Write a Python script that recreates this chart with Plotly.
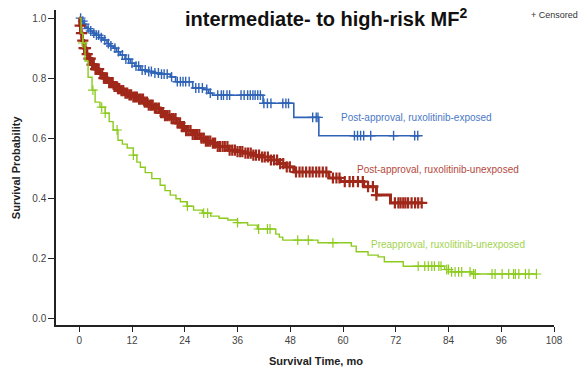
import numpy as np
import plotly.graph_objects as go

# ---- data ----
blue_t = [0, 0.5, 1, 1.5, 2, 2.5, 3, 3.6, 4.5, 5.4, 6.3, 7, 7.7, 8.5, 9.3, 10.4, 11.6, 12.6, 13.9,
          15.3, 16.8, 18.4, 20.7, 21.9, 25.8, 28.3, 29.4, 30.3, 41.8, 48.8, 54.5, 77.4]
blue_s = [1.0, 0.99, 0.98, 0.97, 0.965, 0.957, 0.95, 0.943, 0.935, 0.927, 0.915, 0.907, 0.9, 0.888,
          0.877, 0.863, 0.85, 0.84, 0.827, 0.822, 0.817, 0.813, 0.804, 0.788, 0.767, 0.762, 0.75,
          0.743, 0.716, 0.669, 0.608, 0.608]
blue_cens = [0.3, 0.8, 1.2, 2.0, 2.6, 3.3, 3.9, 4.4, 5.0, 5.8, 6.6, 7.2, 8.1, 8.9, 9.8, 10.6, 11.2,
             12.0, 12.9, 13.5, 14.3, 15.0, 15.8, 16.4, 17.2, 18.0, 18.7, 19.3, 20.0, 21.0, 22.3,
             23.0, 23.6, 24.2, 25.0, 26.5, 27.2, 28.0, 29.0, 29.8, 31.5, 32.3, 32.8, 33.6, 34.2,
             36.8, 37.5, 38.3, 38.9, 39.5, 40.0, 40.6, 41.2, 42.0, 42.8, 43.6, 46.3, 47.0, 47.6,
             53.1, 53.9, 54.3, 62.6, 63.3, 64.0, 64.7, 66.3, 71.5, 76.3, 77.0]

red_t = [0, 0.1, 0.3, 0.6, 1.0, 1.5, 2.0, 2.8, 3.6, 4.5, 5.4, 6.5, 7.7, 8.5, 9.3, 10.2, 11.2, 12.2,
         13.2, 14.6, 15.8, 17.0, 18.4, 19.5, 20.7, 22.0, 23.0, 24.3, 25.8, 27.6, 28.8, 29.9, 31.5,
         33.8, 35.5, 37.4, 39.5, 41.3, 43.6, 45.2, 47.0, 48.8, 56.8, 59.4, 64.7, 67.6, 70.8, 78.0]
red_s = [1.0, 0.975, 0.95, 0.925, 0.9, 0.88, 0.865, 0.845, 0.83, 0.815, 0.8, 0.785, 0.772, 0.765,
         0.758, 0.75, 0.744, 0.737, 0.73, 0.72, 0.71, 0.7, 0.685, 0.675, 0.665, 0.65, 0.638, 0.625,
         0.612, 0.6, 0.59, 0.583, 0.572, 0.56, 0.555, 0.55, 0.543, 0.537, 0.527, 0.515, 0.504,
         0.487, 0.467, 0.455, 0.438, 0.41, 0.384, 0.384]
red_cens = [0.2, 0.5, 0.8, 1.1, 1.4, 1.8, 2.2, 2.5, 2.9, 3.3, 3.7, 4.0, 4.4, 4.8, 5.2, 5.6, 6.0, 6.3,
            6.8, 7.2, 7.6, 8.0, 8.4, 8.8, 9.1, 9.6, 10.0, 10.5, 10.9, 11.4, 11.8, 12.3, 12.7, 13.1,
            13.6, 14.0, 14.5, 14.9, 15.4, 15.8, 16.3, 16.7, 17.2, 17.6, 18.1, 18.6, 19.0, 19.5,
            20.0, 20.5, 21.0, 21.4, 21.9, 22.4, 22.9, 23.4, 23.8, 24.3, 24.8, 25.3, 25.8, 26.3,
            26.8, 27.3, 27.8, 28.3, 28.8, 29.3, 29.8, 30.4, 30.9, 31.5, 32.0, 32.6, 33.1, 33.7,
            34.2, 34.8, 35.4, 36.0, 36.6, 37.1, 37.8, 38.4, 39.0, 39.6, 40.2, 40.9, 41.6, 42.2,
            42.9, 43.6, 44.3, 45.0, 45.7, 46.4, 47.2, 47.9, 49.3, 50.1, 50.8, 51.6, 52.4, 53.1,
            53.9, 54.6, 55.4, 56.2, 57.7, 58.5, 59.2, 60.4, 61.5, 62.3, 63.4, 64.5, 65.7, 66.8,
            67.6, 71.8, 72.6, 73.1, 73.7, 74.2, 74.8, 75.6, 76.4, 77.1, 77.9]

green_t = [0, 0.4, 0.8, 1.3, 2.0, 2.9, 3.6, 4.7, 5.9, 6.8, 7.7, 8.8, 9.8, 10.9, 12.3, 13.1, 13.9,
           15.0, 16.5, 18.4, 19.5, 20.7, 22.0, 23.0, 24.5, 26.0, 28.0, 29.9, 31.8, 33.8, 36.0,
           38.3, 40.5, 44.7, 45.5, 46.3, 54.3, 61.9, 63.0, 65.7, 68.0, 69.4, 73.7, 83.1, 84.7,
           89.3, 104.0]
green_s = [1.0, 0.95, 0.917, 0.857, 0.803, 0.76, 0.72, 0.703, 0.683, 0.655, 0.627, 0.593, 0.58,
           0.567, 0.543, 0.52, 0.503, 0.485, 0.465, 0.443, 0.425, 0.41, 0.398, 0.388, 0.373, 0.36,
           0.35, 0.34, 0.333, 0.327, 0.318, 0.31, 0.297, 0.28, 0.27, 0.26, 0.251, 0.24, 0.221,
           0.21, 0.204, 0.188, 0.173, 0.162, 0.154, 0.147, 0.147]
green_cens = [0.8, 3.1, 5.1, 5.9, 8.6, 12.3, 24.6, 28.3, 29.2, 36.0, 40.8, 42.8, 43.4, 49.7, 52.1,
              57.7, 77.1, 78.6, 79.4, 80.2, 80.8, 81.8, 82.3, 83.6, 84.0, 84.7, 85.5, 86.3, 87.0,
              88.9, 89.7, 90.1, 93.9, 94.6, 96.2, 97.7, 98.8, 99.2, 100.0, 101.5, 102.3, 104.0]

x_ticks = [0, 12, 24, 36, 48, 60, 72, 84, 96, 108]
y_ticks = [0.0, 0.2, 0.4, 0.6, 0.8, 1.0]
y_tick_labels = ["0.0", "0.2", "0.4", "0.6", "0.8", "1.0"]

series = [
    ("Post-approval, ruxolitinib-exposed", blue_t, blue_s, blue_cens, "#2f63b6", "#4a78c6", 1.6, 1.4, 7, 76.7, 0.67),
    ("Post-approval, ruxolitinib-unexposed", red_t, red_s, red_cens, "#a0281a", "#b4493c", 3.0, 2.2, 8, 81.5, 0.497),
    ("Preapproval, ruxolitinib-unexposed", green_t, green_s, green_cens, "#8ccb1e", "#a3d34e", 1.4, 1.2, 7, 83.8, 0.247),
]


def step_value(ts, ss, x):
    ts = np.asarray(ts)
    ss = np.asarray(ss)
    idx = np.searchsorted(ts, x, side="right") - 1
    return ss[np.clip(idx, 0, len(ss) - 1)]


font_family = "Liberation Sans, Arial, sans-serif"
fig = go.Figure()
annotations = []
for name, t, s, cens, col, lcol, lw, mw, msz, lx, ly in series:
    fig.add_trace(go.Scatter(x=t, y=s, mode="lines", line=dict(color=col, width=lw, shape="hv"),
                             name=name, showlegend=False, hoverinfo="skip"))
    cy = step_value(t, s, np.asarray(cens))
    fig.add_trace(go.Scatter(x=cens, y=cy, mode="markers",
                             marker=dict(symbol="cross-thin", size=msz,
                                         line=dict(color=col, width=mw)),
                             showlegend=False, hoverinfo="skip"))
    annotations.append(dict(x=lx, y=ly, xref="x", yref="y", text=name, showarrow=False,
                            font=dict(family=font_family, size=10, color=lcol)))

annotations += [
    dict(x=0.543, y=1.0, xref="paper", yref="paper", xanchor="center", yanchor="bottom",
         text="<b>OS in patients with newly diagnosed</b>", showarrow=False, yshift=0,
         font=dict(family=font_family, size=20, color="#111")),
    dict(x=0.543, y=1.0, xref="paper", yref="paper", xanchor="center", yanchor="top",
         text="<b>intermediate- to high-risk MF<sup>2</sup></b>", showarrow=False, yshift=7,
         font=dict(family=font_family, size=20, color="#111")),
    dict(x=1.052, y=0.985, xref="paper", yref="paper", xanchor="right", yanchor="middle",
         text="+ Censored", showarrow=False,
         font=dict(family=font_family, size=9, color="#333")),
    dict(x=0.523, y=-0.114, xref="paper", yref="paper", xanchor="center", yanchor="middle",
         text="<b>Survival Time, mo</b>", showarrow=False,
         font=dict(family=font_family, size=11, color="#222")),
    dict(x=-0.081, y=0.5, xref="paper", yref="paper", xanchor="center", yanchor="middle",
         text="<b>Survival Probability</b>", showarrow=False, textangle=-90,
         font=dict(family=font_family, size=11, color="#222")),
]

# page shows the figure offset by the browser's default 8px body margin
fig.update_layout(
    width=579, height=360,
    margin=dict(l=48, r=33, t=2, b=43, autoexpand=False),
    paper_bgcolor="white", plot_bgcolor="white",
    font=dict(family=font_family, size=10, color="#444"),
    annotations=annotations,
    xaxis=dict(range=[-5.3, 108], tickvals=x_ticks, ticks="outside", ticklen=5, tickwidth=1,
               tickcolor="#222", showline=True, linecolor="#222", linewidth=1.5,
               showgrid=False, zeroline=False, automargin=False,
               tickfont=dict(size=10, color="#444")),
    yaxis=dict(range=[-0.023, 1.027], tickvals=y_ticks, ticktext=y_tick_labels, ticks="outside",
               ticklen=6, tickwidth=1, tickcolor="#222", showline=True, linecolor="#222",
               linewidth=1.5, showgrid=False, zeroline=False, automargin=False,
               tickfont=dict(size=10, color="#444")),
)

fig.write_html("out.html")
